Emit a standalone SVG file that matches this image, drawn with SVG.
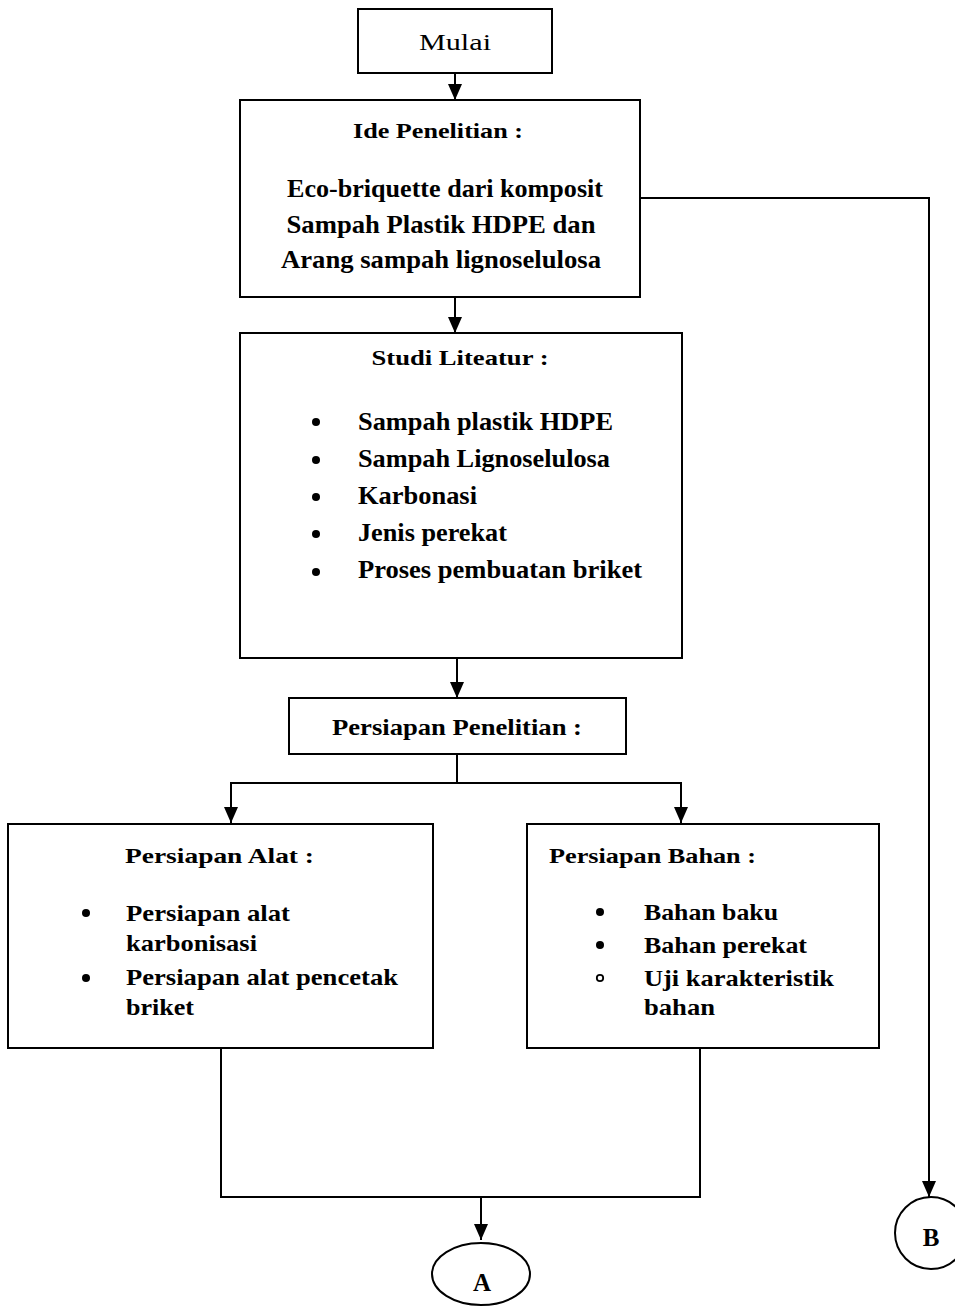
<svg xmlns="http://www.w3.org/2000/svg" width="955" height="1307" viewBox="0 0 955 1307">
<defs>
<marker id="ah" viewBox="0 0 16 14" refX="16" refY="7" markerWidth="16" markerHeight="14" markerUnits="userSpaceOnUse" orient="auto-start-reverse">
<path d="M0,0 L16,7 L0,14 Z" fill="#000"/>
</marker>
</defs>
<style>
.box{fill:#fff;stroke:#000;stroke-width:2}
.ln{fill:none;stroke:#000;stroke-width:2}
.t{font-family:"Liberation Serif","Times New Roman",serif;font-weight:bold;fill:#000}
.r{font-family:"Liberation Serif","Times New Roman",serif;fill:#000}
.bul{fill:#000}
</style>
<rect width="955" height="1307" fill="#fff"/>
<g id="connectors">
<line class="ln" x1="455" y1="73" x2="455" y2="100" marker-end="url(#ah)"/>
<line class="ln" x1="455" y1="297" x2="455" y2="333" marker-end="url(#ah)"/>
<line class="ln" x1="457" y1="658" x2="457" y2="698" marker-end="url(#ah)"/>
<polyline class="ln" points="457,754 457,783"/>
<polyline class="ln" points="231,823 231,783 681,783 681,823" marker-start="url(#ah)" marker-end="url(#ah)"/>
<polyline class="ln" points="640,198 929,198 929,1197" marker-end="url(#ah)"/>
<polyline class="ln" points="221,1048 221,1197 700,1197 700,1048"/>
<line class="ln" x1="481" y1="1197" x2="481" y2="1240" marker-end="url(#ah)"/>
</g>
<g id="mulai">
<rect class="box" x="358" y="9" width="194" height="64"/>
<text class="r" x="455" y="50" font-size="24" text-anchor="middle" textLength="72" lengthAdjust="spacingAndGlyphs">Mulai</text>
</g>
<g id="ide">
<rect class="box" x="240" y="100" width="400" height="197"/>
<text class="t" x="438" y="138" font-size="21" text-anchor="middle" textLength="170" lengthAdjust="spacingAndGlyphs">Ide Penelitian :</text>
<text class="t" x="445" y="197" font-size="25" text-anchor="middle" textLength="316" lengthAdjust="spacingAndGlyphs">Eco-briquette dari komposit</text>
<text class="t" x="441" y="233" font-size="25" text-anchor="middle" textLength="309" lengthAdjust="spacingAndGlyphs">Sampah Plastik HDPE dan</text>
<text class="t" x="441" y="268" font-size="25" text-anchor="middle" textLength="320" lengthAdjust="spacingAndGlyphs">Arang sampah lignoselulosa</text>
</g>
<g id="studi">
<rect class="box" x="240" y="333" width="442" height="325"/>
<text class="t" x="460" y="365" font-size="22" text-anchor="middle" textLength="177" lengthAdjust="spacingAndGlyphs">Studi Liteatur :</text>
<circle class="bul" cx="316" cy="422" r="4"/>
<circle class="bul" cx="316" cy="460" r="4"/>
<circle class="bul" cx="316" cy="497" r="4"/>
<circle class="bul" cx="316" cy="534" r="4"/>
<circle class="bul" cx="316" cy="572" r="4"/>
<text class="t" x="358" y="430" font-size="25" textLength="255" lengthAdjust="spacingAndGlyphs">Sampah plastik HDPE</text>
<text class="t" x="358" y="467" font-size="25" textLength="252" lengthAdjust="spacingAndGlyphs">Sampah Lignoselulosa</text>
<text class="t" x="358" y="504" font-size="25" textLength="119" lengthAdjust="spacingAndGlyphs">Karbonasi</text>
<text class="t" x="358" y="541" font-size="25" textLength="149" lengthAdjust="spacingAndGlyphs">Jenis perekat</text>
<text class="t" x="358" y="578" font-size="25" textLength="284" lengthAdjust="spacingAndGlyphs">Proses pembuatan briket</text>
</g>
<g id="persiapan-penelitian">
<rect class="box" x="289" y="698" width="337" height="56"/>
<text class="t" x="457" y="735" font-size="23" text-anchor="middle" textLength="250" lengthAdjust="spacingAndGlyphs">Persiapan Penelitian :</text>
</g>
<g id="persiapan-alat">
<rect class="box" x="8" y="824" width="425" height="224"/>
<text class="t" x="125" y="863" font-size="21" textLength="189" lengthAdjust="spacingAndGlyphs">Persiapan Alat :</text>
<circle class="bul" cx="86" cy="913" r="4"/>
<circle class="bul" cx="86" cy="978" r="4"/>
<text class="t" x="126" y="921" font-size="24" textLength="164" lengthAdjust="spacingAndGlyphs">Persiapan alat</text>
<text class="t" x="126" y="951" font-size="24" textLength="131" lengthAdjust="spacingAndGlyphs">karbonisasi</text>
<text class="t" x="126" y="985" font-size="24" textLength="272" lengthAdjust="spacingAndGlyphs">Persiapan alat pencetak</text>
<text class="t" x="126" y="1015" font-size="24" textLength="68" lengthAdjust="spacingAndGlyphs">briket</text>
</g>
<g id="persiapan-bahan">
<rect class="box" x="527" y="824" width="352" height="224"/>
<text class="t" x="549" y="863" font-size="21" textLength="207" lengthAdjust="spacingAndGlyphs">Persiapan Bahan :</text>
<circle class="bul" cx="600" cy="912" r="4"/>
<circle class="bul" cx="600" cy="945" r="4"/>
<circle cx="600" cy="978" r="3.2" fill="none" stroke="#000" stroke-width="1.8"/>
<text class="t" x="644" y="920" font-size="24" textLength="134" lengthAdjust="spacingAndGlyphs">Bahan baku</text>
<text class="t" x="644" y="953" font-size="24" textLength="163" lengthAdjust="spacingAndGlyphs">Bahan perekat</text>
<text class="t" x="644" y="986" font-size="24" textLength="190" lengthAdjust="spacingAndGlyphs">Uji karakteristik</text>
<text class="t" x="644" y="1015" font-size="24" textLength="71" lengthAdjust="spacingAndGlyphs">bahan</text>
</g>
<g id="A">
<ellipse class="box" cx="481" cy="1274" rx="49" ry="31"/>
<text class="t" x="482" y="1291" font-size="25" text-anchor="middle">A</text>
</g>
<g id="B">
<ellipse class="box" cx="931" cy="1233" rx="36" ry="36"/>
<text class="t" x="931" y="1246" font-size="25" text-anchor="middle">B</text>
</g>
</svg>
